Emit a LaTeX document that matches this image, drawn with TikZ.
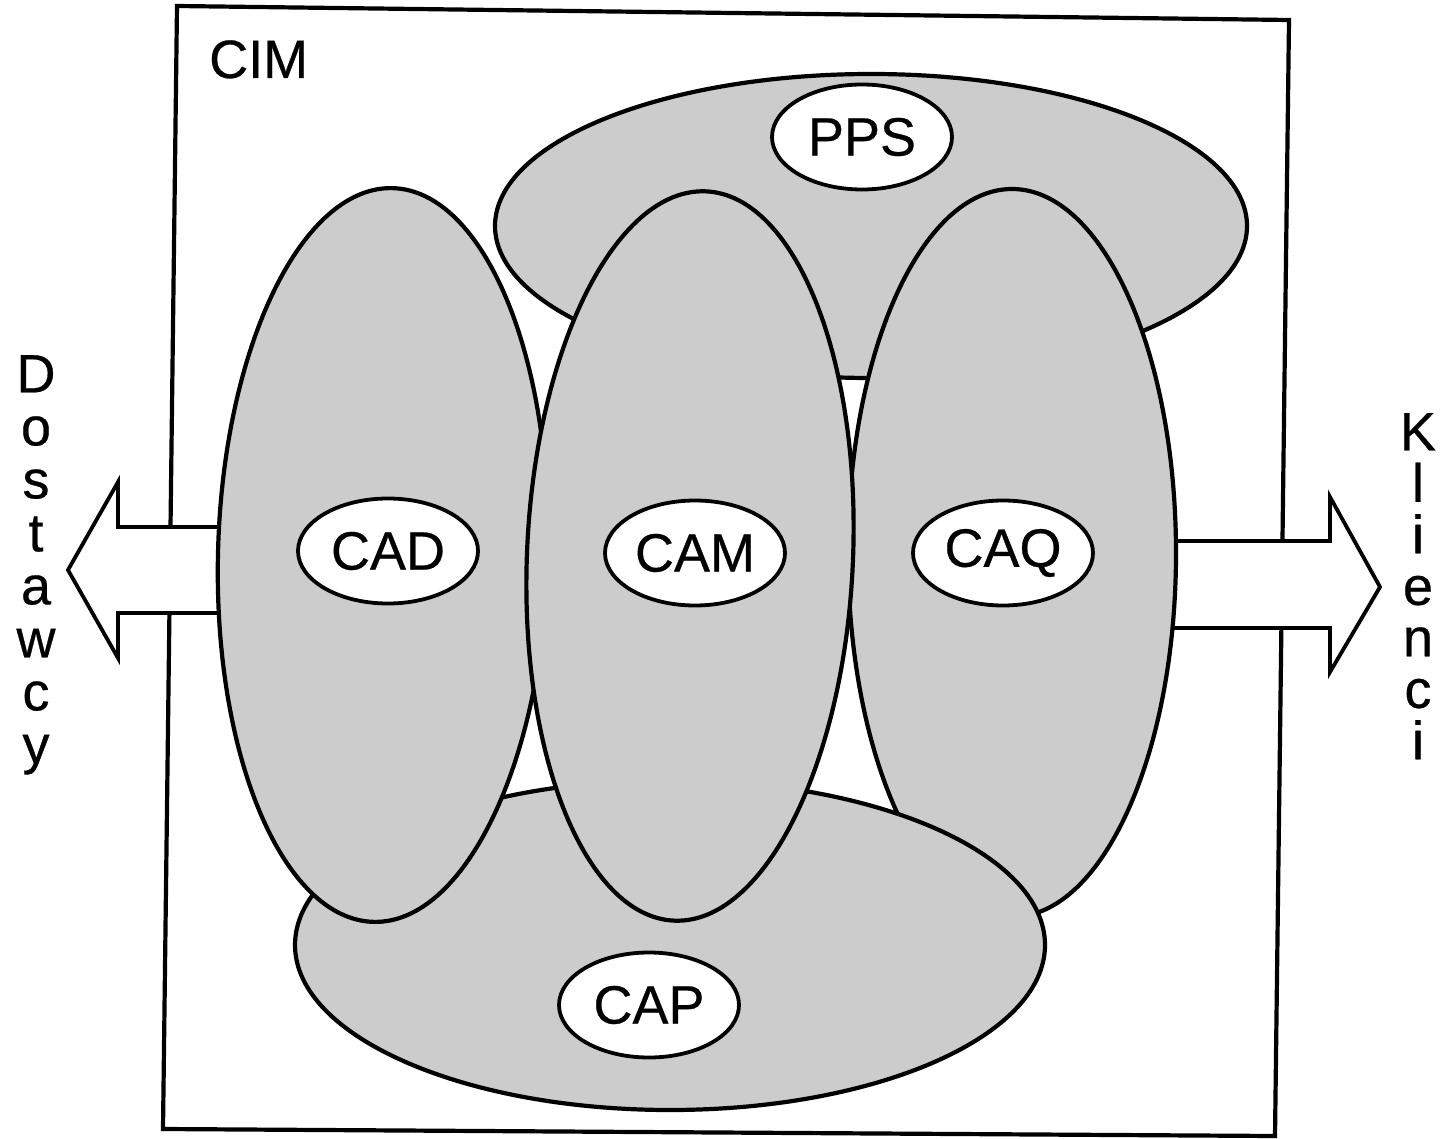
\documentclass[tikz,border=0pt]{standalone}
\usepackage{fontspec}
\setmainfont{Liberation Sans}[FakeBold=0.5]
\usetikzlibrary{shapes.geometric}
\begin{document}
\begin{tikzpicture}[x=1pt,y=-1pt,
  line join=round,
  big/.style={ellipse, draw=black, fill=black!20, inner sep=0pt, outer sep=0pt, line width=4.2pt},
  tag/.style={ellipse, draw=black, fill=white, inner sep=0pt, outer sep=0pt, minimum width=180pt, minimum height=105pt, line width=3.8pt, font=\fontsize{54}{60}\selectfont},
  side/.style={align=center, inner sep=0pt, anchor=north, font=\fontsize{54}{53}\selectfont},
  arrowbox/.style={draw=black, fill=white, line width=3.8pt, line join=miter},
  frame/.style={draw=black, line width=4.2pt, line join=miter}]
\useasboundingbox (0,0) rectangle (1440,1139);
% CIM frame
\coordinate (r1) at (177,6);
\coordinate (r2) at (1289,20);
\coordinate (r3) at (1275,1136);
\coordinate (r4) at (163,1129);
\draw[frame] (r1) -- (r2) -- (r3) -- (r4) -- cycle;
\node[anchor=base west, inner sep=0pt, font=\fontsize{54}{60}\selectfont] (cim) at (209,78) {CIM};
% arrows
\coordinate (la1) at (230,527);
\coordinate (la2) at (118,527);
\coordinate (la3) at (118,482);
\coordinate (la4) at (68,570);
\coordinate (la5) at (118,658);
\coordinate (la6) at (118,613);
\coordinate (la7) at (230,613);
\draw[arrowbox] (la1) -- (la2) -- (la3) -- (la4) -- (la5) -- (la6) -- (la7) -- cycle;
\coordinate (ra1) at (1150,541);
\coordinate (ra2) at (1330,541);
\coordinate (ra3) at (1330,497);
\coordinate (ra4) at (1380,587);
\coordinate (ra5) at (1330,672);
\coordinate (ra6) at (1330,628);
\coordinate (ra7) at (1150,628);
\draw[arrowbox] (ra1) -- (ra2) -- (ra3) -- (ra4) -- (ra5) -- (ra6) -- (ra7) -- cycle;
% big ellipses
\node[big, minimum width=752pt, minimum height=304pt] (pps) at (871,226) {};
\node[big, minimum width=328pt, minimum height=728pt] (caq) at (1012,553) {};
\node[big, minimum width=750pt, minimum height=330pt] (cap) at (670,945) {};
\node[big, minimum width=330pt, minimum height=734pt, rotate=-1.5] (cad) at (383,555) {};
\node[big, minimum width=326pt, minimum height=730pt, rotate=-2.5] (cam) at (690,556) {};
% labels
\node[tag] (ppsl) at (862,137) {PPS};
\node[tag] (cadl) at (388,551) {CAD};
\node[tag] (caml) at (695,553) {CAM};
\node[tag] (caql) at (1003,553) {CAQ};
\node[tag] (capl) at (649,1005) {CAP};
% side texts
\node[side] (dost) at (36,355) {D\\o\\s\\t\\a\\w\\c\\y};
\node[side, font=\fontsize{54}{51.5}\selectfont] (klie) at (1418,413) {K\\l\\i\\e\\n\\c\\i};
\end{tikzpicture}
\end{document}
